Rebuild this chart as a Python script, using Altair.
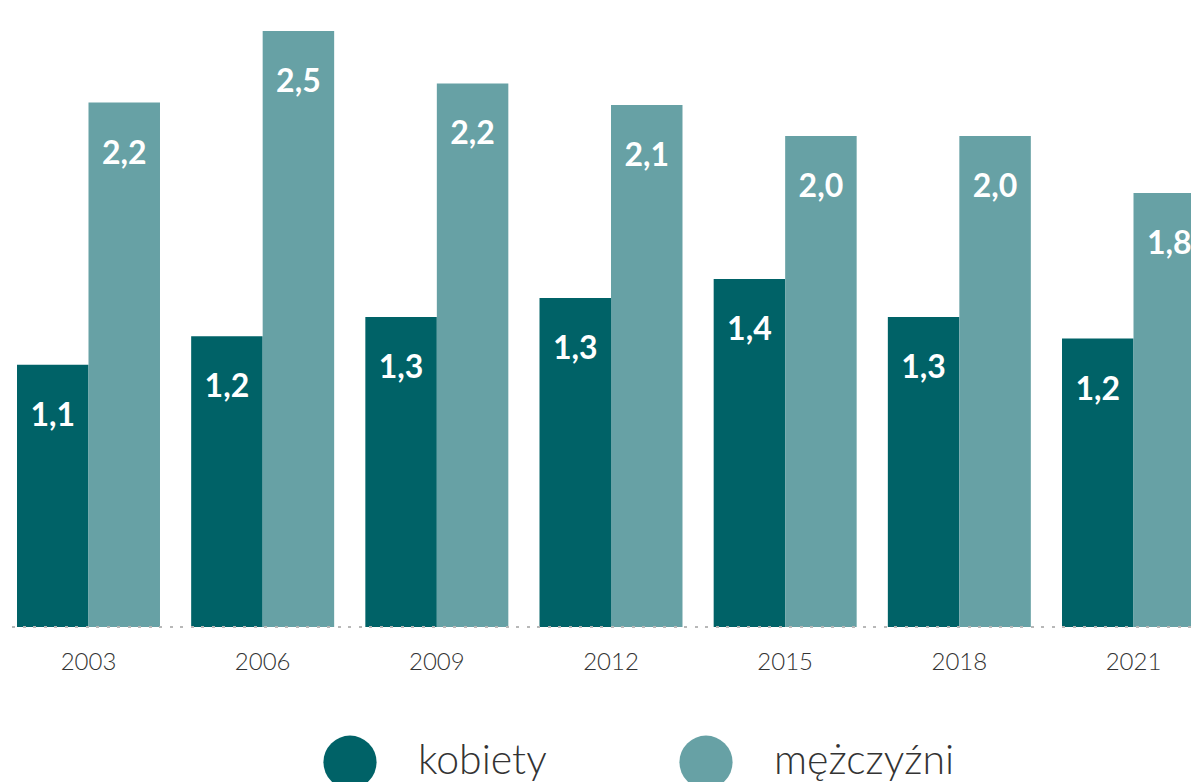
import altair as alt
import pandas as pd

years = ["2003", "2006", "2009", "2012", "2015", "2018", "2021"]
series = ["kobiety", "mężczyźni"]
women = [1.10, 1.22, 1.30, 1.38, 1.46, 1.30, 1.21]
men = [2.20, 2.50, 2.28, 2.19, 2.06, 2.06, 1.82]
women_labels = ["1,1", "1,2", "1,3", "1,3", "1,4", "1,3", "1,2"]
men_labels = ["2,2", "2,5", "2,2", "2,1", "2,0", "2,0", "1,8"]
colors = ["#006267", "#67a1a5"]

rows = []
for i, y in enumerate(years):
    rows.append({"year": y, "series": series[0], "value": women[i], "label": women_labels[i]})
    rows.append({"year": y, "series": series[1], "value": men[i], "label": men_labels[i]})
df = pd.DataFrame(rows)

FONT = "Lato"

x = alt.X(
    "year:O",
    sort=years,
    scale=alt.Scale(range=[0, 1206], paddingInner=0.179, paddingOuter=0.0517),
    axis=alt.Axis(
        title=None, domain=False, ticks=False, labelAngle=0,
        labelFontSize=24, labelFont=FONT, labelFontWeight=300,
        labelColor="#333333", labelPadding=23, labelBaseline="top",
    ),
)
xo = alt.XOffset("series:N", sort=series, scale=alt.Scale(paddingInner=0, paddingOuter=0))
y = alt.Y("value:Q", scale=alt.Scale(domain=[0, 2.5], nice=False, zero=True), axis=None)

bars = alt.Chart(df).mark_bar().encode(
    x=x,
    xOffset=xo,
    y=y,
    color=alt.Color(
        "series:N",
        sort=series,
        scale=alt.Scale(domain=series, range=colors),
        legend=alt.Legend(
            title=None, orient="none", direction="horizontal",
            legendX=315, legendY=704,
            symbolType="circle", symbolSize=2827, symbolStrokeWidth=0,
            symbolOpacity=1, labelLimit=0,
            labelFont=FONT, labelFontSize=41, labelFontWeight=300,
            labelColor="#333333", labelOffset=41, columnPadding=132,
        ),
    ),
)

texts = alt.Chart(df).mark_text(
    color="white", font=FONT, fontSize=32, fontWeight="bold",
    baseline="alphabetic", dy=61,
).encode(x=x, xOffset=xo, y=y, text="label:N")

baseline = alt.Chart(df).mark_rule(
    color="#b8b8b8", strokeWidth=2, strokeDash=[2.5, 8]
).encode(x=alt.value(-6), x2=alt.value(1183), y=alt.value(596))

chart = (
    alt.layer(bars, texts, baseline)
    .properties(
        width=1183, height=596,
        autosize=alt.AutoSizeParams(type="none"),
        padding={"left": 0, "top": 23, "right": 0, "bottom": 155},
    )
    .configure_view(stroke=None)
)

chart.save("out.html", embed_options={"renderer": "svg", "actions": False})
